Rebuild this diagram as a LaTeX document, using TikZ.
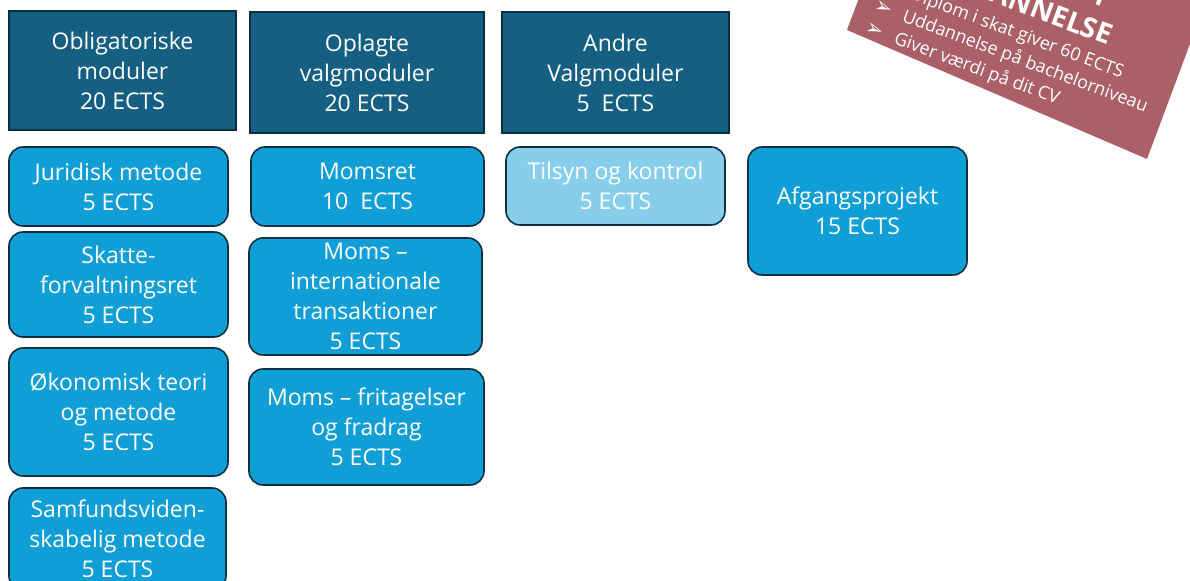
\documentclass[tikz,border=0pt]{standalone}
\usepackage{fontspec}
\setmainfont{Open Sans}
\newfontfamily\symfont{DejaVu Sans}
\usetikzlibrary{positioning}
\definecolor{hdrblue}{HTML}{156082}
\definecolor{modblue}{HTML}{0F9ED5}
\definecolor{modpale}{HTML}{87CEEB}
\definecolor{edgeblue}{HTML}{0A2F41}
\definecolor{bannerred}{HTML}{AB6068}
\tikzset{
  box/.style={draw=edgeblue, line width=0.8pt, text=white, align=center, inner sep=0pt,
    font=\fontsize{11.5}{15}\selectfont},
  hdr/.style={box, fill=hdrblue},
  mod/.style={box, fill=modblue, rounded corners=7pt},
  modlight/.style={mod, fill=modpale},
  bulletline/.style={text=white, anchor=base west, inner sep=0pt, transform shape,
    font=\fontsize{9}{11}\selectfont},
  bannertitle/.style={text=white, anchor=base east, inner sep=0pt, transform shape,
    font=\fontsize{14}{16}\selectfont\bfseries},
}
\newcommand{\arrowbullet}{\makebox[15pt][l]{\symfont\fontsize{10.5}{11}\selectfont ➢}}
\begin{document}
\begin{tikzpicture}[x=0.5pt, y=-0.5pt]
    \useasboundingbox (0,0) rectangle (1190,581);
    % place header nodes
    \node [hdr, minimum width=113.5pt, minimum height=59.5pt] (obl) at (122.5,70.5)
      {Obligatoriske\\moduler\\20 ECTS};
    \node [hdr, minimum width=117pt, minimum height=60.5pt] (opl) at (367,72.5)
      {Oplagte\\valgmoduler\\20 ECTS};
    \node [hdr, minimum width=113.5pt, minimum height=60.5pt] (andre) at (615.5,72.5)
      {Andre\\Valgmoduler\\5\ \ ECTS};
    % obligatoriske moduler
    \node [mod, minimum width=109.5pt, minimum height=39.5pt] (jur) at (118.5,186.5)
      {Juridisk metode\\5 ECTS};
    \node [mod, minimum width=109.5pt, minimum height=52.5pt] (skat) at (118.5,284.5)
      {Skatte-\\forvaltningsret\\5 ECTS};
    \node [mod, minimum width=109.5pt, minimum height=64pt] (oko) at (118.5,412)
      {Økonomisk teori\\og metode\\5 ECTS};
    \node [mod, minimum width=108.5pt, minimum height=51pt] (samf) at (117.5,539)
      {Samfundsviden-\\skabelig metode\\5 ECTS};
    % oplagte valgmoduler
    \node [mod, minimum width=116.5pt, minimum height=39.5pt] (moms) at (367.5,186.5)
      {Momsret\\10\ \ ECTS};
    \node [mod, minimum width=116.5pt, minimum height=58.5pt] (intl) at (365.5,296.5)
      {Moms –\\internationale\\transaktioner\\5 ECTS};
    \node [mod, minimum width=117.5pt, minimum height=58pt] (frit) at (366.5,427)
      {Moms – fritagelser\\og fradrag\\5 ECTS};
    % andre valgmoduler
    \node [modlight, minimum width=109.5pt, minimum height=39pt] (tilsyn) at (615.5,186)
      {Tilsyn og kontrol\\5 ECTS};
    \node [mod, minimum width=109.5pt, minimum height=64pt] (afg) at (857.5,211)
      {Afgangsprojekt\\15 ECTS};
    % banner
    \begin{scope}
      \clip (0,0) rectangle (1190,581);
      \fill [bannerred] (847,30) -- (1147,159) -- (1224,-47) -- (924,-176) -- cycle;
      \begin{scope}[shift={(901,21)}, rotate=-20.5]
        \node [bannertitle] (anerk) at (188,-84) {ANERKENDT};
        \node [bannertitle] (udd) at (203,-49.6) {UDDANNELSE};
        \node [bulletline] (diplom) at (-30,-23.7) {\arrowbullet Diplom i skat giver 60 ECTS};
        \node [bulletline] (bach) at (-30,0) {\arrowbullet Uddannelse på bachelorniveau};
        \node [bulletline] (cv) at (-30,23.7) {\arrowbullet Giver værdi på dit CV};
      \end{scope}
    \end{scope}
\end{tikzpicture}
\end{document}
